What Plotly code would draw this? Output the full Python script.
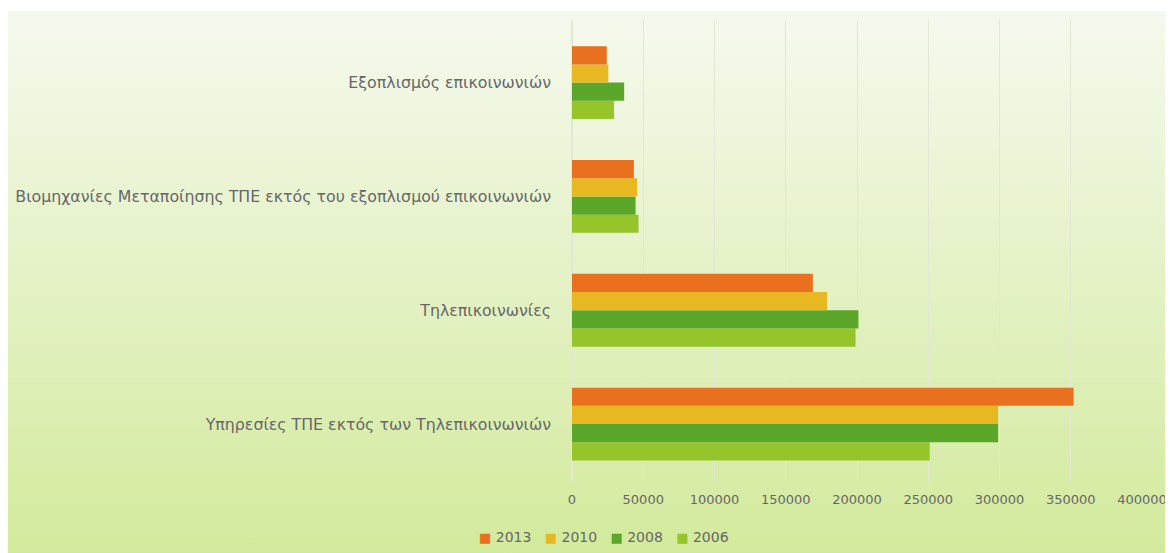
import base64

import plotly.graph_objects as go

# categories, bottom to top as plotly draws them
categories = ["Υπηρεσίες ΤΠΕ εκτός των Τηλεπικοινωνιών",
              "Τηλεπικοινωνίες",
              "Βιομηχανίες Μεταποίησης ΤΠΕ εκτός του εξοπλισμού επικοινωνιών",
              "Εξοπλισμός επικοινωνιών"]

years = ["2006", "2008", "2010", "2013"]
values_2006 = [251000, 199000, 46700, 29500]
values_2008 = [299000, 201000, 44600, 36600]
values_2010 = [299000, 179000, 45700, 25500]
values_2013 = [352000, 169000, 43400, 24400]
series = [values_2006, values_2008, values_2010, values_2013]

colors = {"2006": "#95c52b", "2008": "#5ba72a", "2010": "#e8b823", "2013": "#e8701e"}

tick_vals = [0, 50000, 100000, 150000, 200000, 250000, 300000, 350000, 400000]

# page body has an 8px margin, so the figure is sized to end at the window edge
W, H = 1165, 545
L, R, T, B = 564, 31, 12, 72
plot_w = W - L - R
plot_h = H - T - B
text_col = "#676767"
font_family = "DejaVu Sans"

# gradient background as svg image
svg = ('<svg xmlns="http://www.w3.org/2000/svg" width="100" height="100" preserveAspectRatio="none">'
       '<defs><linearGradient id="g" x1="0" y1="0" x2="0" y2="1">'
       '<stop offset="0" stop-color="#f5f9ee"/><stop offset="1" stop-color="#d3ea9c"/>'
       '</linearGradient></defs><rect width="100" height="100" fill="url(#g)"/></svg>')
bg_src = "data:image/svg+xml;base64," + base64.b64encode(svg.encode()).decode()

fig = go.Figure()
for year, vals in zip(years, series):
    fig.add_trace(go.Bar(y=categories, x=vals, name=year, orientation="h",
                         marker=dict(color=colors[year], line=dict(width=0))))

bg_top = 3
fig.add_layout_image(dict(source=bg_src, xref="paper", yref="paper",
                          x=-L / plot_w, y=(H - B - bg_top) / plot_h,
                          sizex=W / plot_w, sizey=(H - bg_top) / plot_h,
                          xanchor="left", yanchor="top", sizing="stretch",
                          layer="below"))

# compact legend like the original: small square + year
legend_text = "&nbsp;&nbsp;&nbsp;".join(
    f'<span style="color:{colors[y]};font-size:13px">■</span>&nbsp;{y}' for y in reversed(years))
fig.add_annotation(text=legend_text, xref="paper", yref="paper",
                   x=(596 - L) / plot_w, y=(H - B - 529) / plot_h,
                   xanchor="center", yanchor="middle", showarrow=False,
                   font=dict(family=font_family, size=14, color=text_col))

fig.update_layout(
    width=W, height=H,
    margin=dict(l=L, r=R, t=T, b=B, pad=0),
    paper_bgcolor="white",
    plot_bgcolor="rgba(0,0,0,0)",
    barmode="group",
    bargap=0.36,
    bargroupgap=0,
    font=dict(family=font_family, size=14, color=text_col),
    xaxis=dict(range=[0, 400000], tickvals=tick_vals, ticktext=[str(v) for v in tick_vals],
               showgrid=True, gridcolor="#e2e8d6", gridwidth=1,
               zeroline=True, zerolinecolor="#e2e8d6", showline=False, automargin=False,
               tickfont=dict(size=13, color=text_col), ticks="", ticklabelstandoff=9),
    yaxis=dict(range=[-0.5, 3.55], showgrid=False, zeroline=False, showline=False,
               automargin=False, ticks="", tickfont=dict(size=15.8, color=text_col),
               ticklabelstandoff=20),
    showlegend=False,
)

fig.write_html("out.html")
